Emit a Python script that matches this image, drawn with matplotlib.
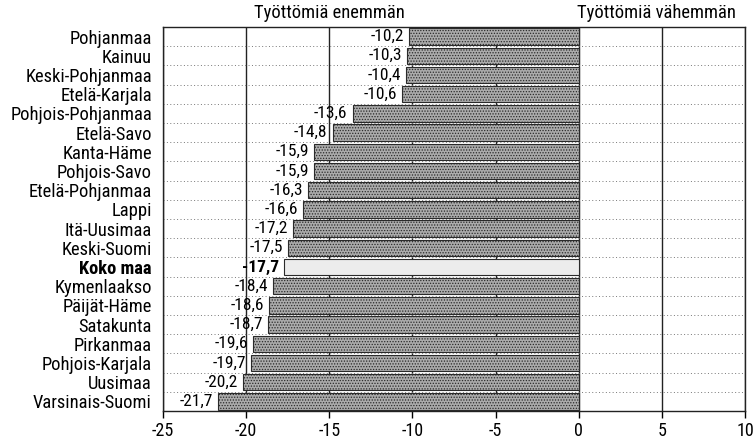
import matplotlib
matplotlib.use("Agg")
import matplotlib.pyplot as plt
import numpy as np

regions = ["Pohjanmaa", "Kainuu", "Keski-Pohjanmaa", "Etelä-Karjala", "Pohjois-Pohjanmaa",
           "Etelä-Savo", "Kanta-Häme", "Pohjois-Savo", "Etelä-Pohjanmaa", "Lappi",
           "Itä-Uusimaa", "Keski-Suomi", "Koko maa", "Kymenlaakso", "Päijät-Häme",
           "Satakunta", "Pirkanmaa", "Pohjois-Karjala", "Uusimaa", "Varsinais-Suomi"]
values = [-10.2, -10.3, -10.4, -10.6, -13.6, -14.8, -15.9, -15.9, -16.3, -16.6,
          -17.2, -17.5, -17.7, -18.4, -18.6, -18.7, -19.6, -19.7, -20.2, -21.7]
xticks = [-25, -20, -15, -10, -5, 0, 5, 10]
highlight = "Koko maa"

plt.rcParams['font.family'] = ['Roboto Condensed', 'Archivo Narrow', 'DejaVu Sans']
plt.rcParams['hatch.color'] = '#666666'
plt.rcParams['hatch.linewidth'] = 0.6

fig = plt.figure(figsize=(7.54, 4.42), dpi=100)
ax = fig.add_axes([0.2162, 0.0701, 0.988 - 0.2162, 0.9389 - 0.0701])

y = np.arange(len(regions))
for i, (r, v) in enumerate(zip(regions, values)):
    hl = (r == highlight)
    ax.barh(i, v, height=0.86, color='#ececec' if hl else '#ababab',
            edgecolor='#2a2a2a', linewidth=0.8, hatch=None if hl else '......', zorder=3)
    ax.text(v - 0.3, i, f"{v:.1f}".replace('.', ','), ha='right', va='center',
            fontsize=12.5, fontweight='bold' if hl else 'normal', zorder=4)

ax.set_xlim(-25, 10)
ax.set_ylim(len(regions) - 0.5, -0.5)
ax.set_yticks(y)
ax.set_yticklabels(regions, fontsize=13.3)
for lbl in ax.get_yticklabels():
    if lbl.get_text() == highlight:
        lbl.set_fontweight('bold')
ax.tick_params(axis='y', length=0, pad=8)
ax.set_xticks(xticks)
ax.set_xticklabels([str(t) for t in xticks], fontsize=13)
ax.tick_params(axis='x', length=5, width=1, direction='out', pad=3)

ax.set_yticks(np.arange(len(regions) + 1) - 0.5, minor=True)
ax.tick_params(axis='y', which='minor', length=0)
ax.grid(axis='y', which='minor', linestyle=(0, (1, 2.5)), color='#777777', linewidth=0.7)
ax.grid(axis='x', which='major', linestyle='-', color='#222222', linewidth=1.0)
ax.grid(axis='y', which='major', visible=False)
ax.set_axisbelow(True)
for s in ax.spines.values():
    s.set_linewidth(1.0)
    s.set_color('#222222')

ax.text(-15, 1.012, "Työttömiä enemmän", transform=ax.get_xaxis_transform(),
        ha='center', va='bottom', fontsize=13.3)
ax.text(4.7, 1.012, "Työttömiä vähemmän", transform=ax.get_xaxis_transform(),
        ha='center', va='bottom', fontsize=13.3)

fig.savefig("out.png", dpi=100)
